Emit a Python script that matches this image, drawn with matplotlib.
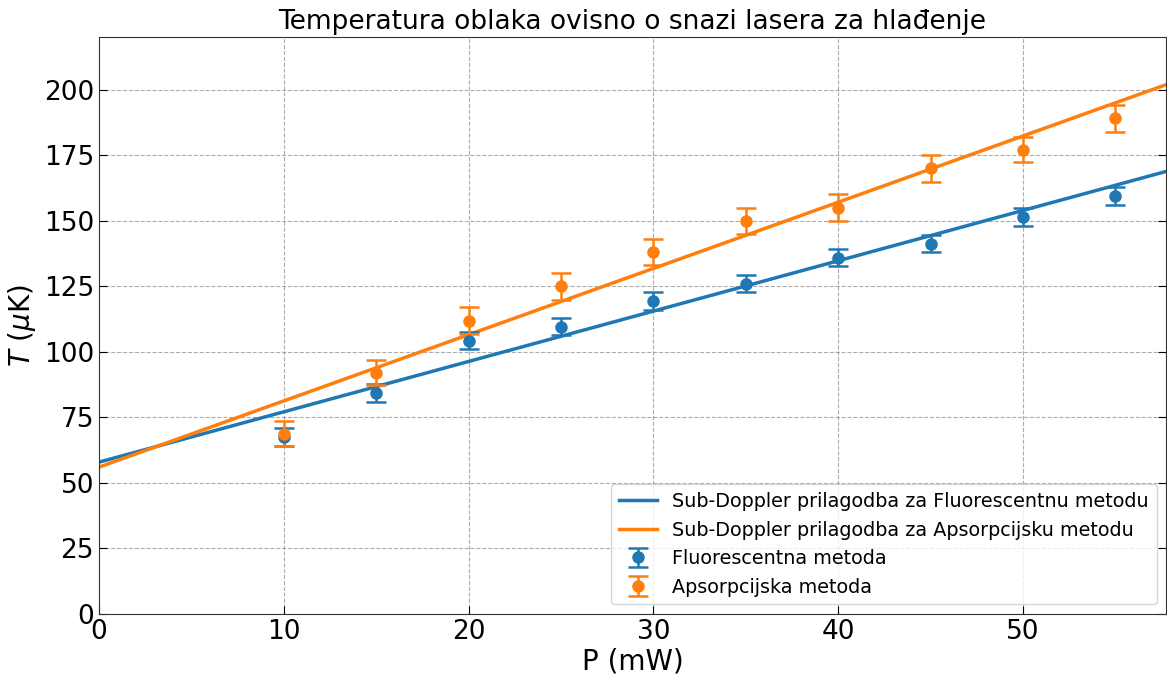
import numpy as np
import matplotlib
matplotlib.use("Agg")
import matplotlib.pyplot as plt

# Data
P = [10, 15, 20, 25, 30, 35, 40, 45, 50, 55]
T_fluo = [67.4, 84.2, 104.2, 109.5, 119.5, 126.0, 135.9, 141.2, 151.4, 159.5]
err_fluo = [3.4, 3.4, 3.2, 3.2, 3.4, 3.2, 3.3, 3.2, 3.4, 3.4]
T_abs = [68.8, 92.0, 111.8, 125.0, 138.0, 149.9, 155.0, 170.0, 177.0, 189.0]
err_abs = [4.8, 4.8, 5.2, 5.1, 5.0, 5.1, 5.1, 5.1, 4.8, 5.2]

# Linear sub-Doppler fit parameters (intercept, slope)
fit_fluo = [57.9, 1.92]
fit_abs = [56.0, 2.526]

xmax = 57.75

fig = plt.figure(figsize=(11.67, 6.75), dpi=100)
ax = fig.add_axes([0.0848, 0.0904, 0.9145, 0.8546])

xs = np.linspace(0, xmax, 200)
ax.plot(xs, fit_fluo[0] + fit_fluo[1] * xs, color="#1f77b4", lw=2.5,
        label="Sub-Doppler prilagodba za Fluorescentnu metodu")
ax.plot(xs, fit_abs[0] + fit_abs[1] * xs, color="#ff7f0e", lw=2.5,
        label="Sub-Doppler prilagodba za Apsorpcijsku metodu")
ax.errorbar(P, T_fluo, yerr=err_fluo, fmt="o", color="#1f77b4", ms=8,
            capsize=7, elinewidth=1.8, capthick=1.8, label="Fluorescentna metoda")
ax.errorbar(P, T_abs, yerr=err_abs, fmt="o", color="#ff7f0e", ms=8,
            capsize=7, elinewidth=1.8, capthick=1.8, label="Apsorpcijska metoda")

ax.set_xlim(0, xmax)
ax.set_ylim(0, 220)
ax.set_xticks([0, 10, 20, 30, 40, 50])
ax.set_yticks([0, 25, 50, 75, 100, 125, 150, 175, 200])
ax.grid(True, linestyle="--", color="gray", alpha=0.65, lw=0.8)
ax.tick_params(direction="in", right=True, labelsize=19, length=6)
for s in ax.spines.values():
    s.set_color("#333333")

ax.set_xlabel("P (mW)", fontsize=20, labelpad=2)
ax.set_ylabel(r"$T$ ($\mu$K)", fontsize=20)
ax.set_title("Temperatura oblaka ovisno o snazi lasera za hlađenje", fontsize=19)
ax.legend(loc="lower right", fontsize=13.8)

fig.savefig("out.png", dpi=100)
